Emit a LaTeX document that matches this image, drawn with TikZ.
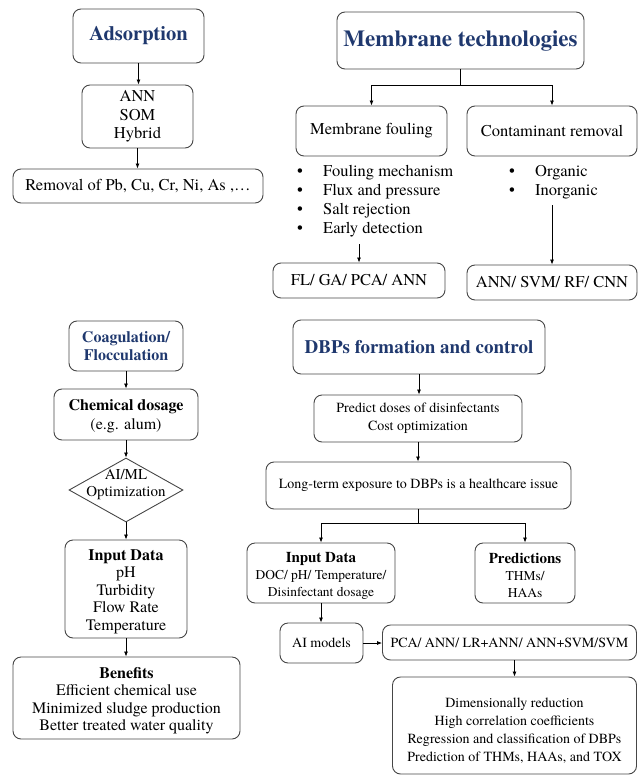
\documentclass[tikz,border=0pt]{standalone}
\usepackage{fontspec}
\setmainfont{TeX Gyre Termes}
\usetikzlibrary{arrows.meta,shapes.geometric,calc}
\definecolor{navy}{RGB}{31,56,110}
\definecolor{edge}{RGB}{70,70,70}

\begin{document}
\begin{tikzpicture}[x=1pt,y=-1pt,
  box/.style={draw=edge, line width=0.9pt, rounded corners=8pt, align=center, inner sep=1pt},
  head/.style={font=#1\bfseries, text=navy},
  memfont/.style={font=\fontsize{16.5}{18.5}\selectfont},
  coagfont/.style={font=\fontsize{16}{17.5}\selectfont},
  dbpfont/.style={font=\fontsize{14}{18}\selectfont},
  arr/.style={-{Latex[length=5pt,width=4pt]}, line width=0.8pt, black},
  ln/.style={line width=0.8pt, black}]

\useasboundingbox (0,0) rectangle (638,776);

% ---------------- Adsorption ----------------
\node[box, head=\fontsize{20.5}{24}\selectfont, minimum width=131pt, minimum height=54pt] (ads) at (138.5,36) {Adsorption};
\node[box, memfont, minimum width=111pt, minimum height=63pt] (hyb) at (137.5,116.5) {ANN\\SOM\\Hybrid};
\node[box, memfont, minimum width=250pt, minimum height=34pt] (rem) at (138,186) {Removal of Pb, Cu, Cr, Ni, As ,…};
\draw[arr] (ads.south) -- (ads.south |- hyb.north);
\draw[arr] (hyb.south) -- (hyb.south |- rem.north);

% ---------------- Membrane technologies ----------------
\node[box, head=\fontsize{23}{26}\selectfont, minimum width=247pt, minimum height=57pt] (mem) at (460.5,40.5) {Membrane technologies};
\node[box, memfont, minimum width=151pt, minimum height=50pt] (foul) at (371.5,131) {Membrane fouling};
\node[box, memfont, minimum width=170pt, minimum height=50pt] (cont) at (552,131) {Contaminant removal};
\node[memfont, align=left, inner sep=0, anchor=north west, font=\fontsize{16.5}{19}\selectfont] (flist) at (297,165)
  {\makebox[26pt][l]{•}Fouling mechanism\\
   \makebox[26pt][l]{•}Flux and pressure\\
   \makebox[26pt][l]{•}Salt rejection\\
   \makebox[26pt][l]{•}Early detection};
\node[memfont, align=left, inner sep=0, anchor=north west, font=\fontsize{16.5}{19}\selectfont] (clist) at (509,165)
  {\makebox[26pt][l]{•}Organic\\
   \makebox[26pt][l]{•}Inorganic};
\node[box, memfont, minimum width=172pt, minimum height=35pt] (fl) at (359,280.5) {FL/ GA/ PCA/ ANN};
\node[box, memfont, minimum width=170pt, minimum height=35pt] (annb) at (552,282.5) {ANN/ SVM/ RF/ CNN};

\coordinate (mj) at (mem.south |- 0,85);
\draw[ln] (mem.south) -- (mj);
\draw[arr] (mj) -| (foul.north);
\draw[arr] (mj) -| (cont.north);
\path (flist.south) ++(0,7) coordinate (fa);
\draw[arr] (fa -| fl.north) -- (fl.north);
\path (clist.south) ++(0,6) coordinate (ca);
\draw[arr] (ca -| annb.north) -- (annb.north);

% ---------------- Coagulation / Flocculation ----------------
\node[box, head=\fontsize{16}{18}\selectfont, minimum width=114pt, minimum height=50pt] (coag) at (126,346) {Coagulation/\\Flocculation};
\node[box, font=\fontsize{16}{19}\selectfont, minimum width=144pt, minimum height=51pt] (chem) at (126,414.5) {\rule{0pt}{14pt}\textbf{Chemical dosage}\\(e.g. alum)};
\node[draw=edge, line width=0.9pt, diamond, inner sep=0pt, minimum width=114pt, minimum height=64pt] (opt) at (126,490) {};
\node[font=\fontsize{15}{17}\selectfont, align=center, inner sep=0pt] (optt) at (126,485) {AI/ML\\Optimization};
\node[box, coagfont, minimum width=122pt, minimum height=98pt] (inl) at (126,589) {\rule{0pt}{16pt}\textbf{Input Data}\\pH\\Turbidity\\Flow Rate\\Temperature};
\node[box, coagfont, minimum width=227pt, minimum height=82pt] (ben) at (126.5,698) {\rule{0pt}{16pt}\textbf{Benefits}\\Efficient chemical use\\Minimized sludge production\\Better treated water quality};

\draw[arr] (coag.south) -- (chem.north);
\draw[arr] (chem.south) -- (opt.north);
\draw[arr] (opt.south) -- (inl.north);
\draw[arr] (inl.south) -- (inl.south |- ben.north);

% ---------------- DBPs formation and control ----------------
\node[box, head=\fontsize{19}{22}\selectfont, minimum width=252pt, minimum height=54pt] (dbp) at (419,347) {DBPs formation and control};
\node[box, dbpfont, minimum width=208pt, minimum height=47pt] (pred) at (418,418.5) {Predict doses of disinfectants\\Cost optimization};
\node[box, dbpfont, minimum width=305pt, minimum height=47pt] (long) at (418.5,485.5) {Long-term exposure to DBPs is a healthcare issue};
\node[box, font=\fontsize{13.5}{17}\selectfont, minimum width=148pt, minimum height=60pt] (inr) at (321,573) {\rule{0pt}{15pt}{\fontsize{15}{17}\selectfont\bfseries Input Data}\\DOC/ pH/ Temperature/\\Disinfectant dosage};
\node[box, font=\fontsize{13.5}{17}\selectfont, minimum width=100pt, minimum height=60pt] (prd) at (525,573) {\rule{0pt}{15pt}{\fontsize{15}{17}\selectfont\bfseries Predictions}\\THMs/\\HAAs};
\node[box, dbpfont, minimum width=83pt, minimum height=40pt] (aim) at (321.5,643) {AI models};
\node[box, dbpfont, minimum width=254pt, minimum height=35pt] (pca) at (509.5,642.5) {PCA/ ANN/ LR+ANN/ ANN+SVM/SVM};
\node[box, dbpfont, minimum width=244pt, minimum height=97pt] (fin) at (514.5,725.5) {\rule{0pt}{19pt}Dimensionally reduction\\High correlation coefficients\\Regression and classification of DBPs\\Prediction of THMs, HAAs, and TOX};

\draw[arr] (dbp.south) -- (dbp.south |- pred.north);
\draw[arr] (pred.south) -- (pred.south |- long.north);
\coordinate (lj) at (long.south |- 0,523);
\draw[ln] (long.south) -- (lj);
\draw[arr] (lj) -| (inr.north);
\draw[arr] (lj) -| (prd.north);
\draw[arr] (inr.south) -- (inr.south |- aim.north);
\draw[arr] (aim.east) -- (aim.east -| pca.west);
\draw[arr] (fin.north |- pca.south) -- (fin.north);

\end{tikzpicture}
\end{document}
